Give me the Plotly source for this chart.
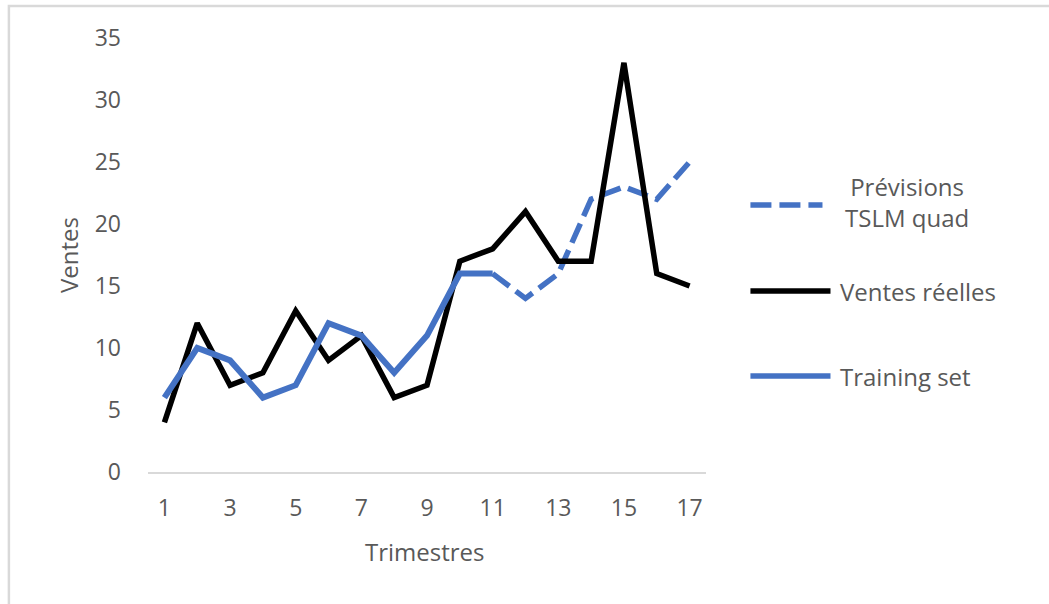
import plotly.graph_objects as go

# Quarterly sales data
trimestres = list(range(1, 18))
ventes_reelles = [4, 12, 7, 8, 13, 9, 11, 6, 7, 17, 18, 21, 17, 17, 33, 16, 15]
training_x = list(range(1, 12))
training_set = [6, 10, 9, 6, 7, 12, 11, 8, 11, 16, 16]
prev_x = list(range(11, 18))
previsions_tslm = [16, 14, 16, 22, 23, 22, 25]
x_ticks = [1, 3, 5, 7, 9, 11, 13, 15, 17]
y_ticks = [0, 5, 10, 15, 20, 25, 30, 35]

BLUE = "#4472C4"
BLACK = "#000000"
GREY_TXT = "#595959"
FONT = "Open Sans"
DASH = "21px,8px"

W, H = 1049, 604
L, R, T, B = 148, 1049 - 705.6, 38, 604 - 472
PW, PH = W - L - R, H - T - B


def px(xp):
    return (xp - L) / PW


def py(yp):
    return (H - B - yp) / PH


fig = go.Figure()
fig.add_trace(go.Scatter(x=prev_x, y=previsions_tslm, mode="lines",
                         line=dict(color=BLUE, width=5.5, dash=DASH),
                         name="Prévisions TSLM quad", showlegend=False))
fig.add_trace(go.Scatter(x=trimestres, y=ventes_reelles, mode="lines",
                         line=dict(color=BLACK, width=5.5),
                         name="Ventes réelles", showlegend=False))
fig.add_trace(go.Scatter(x=training_x, y=training_set, mode="lines",
                         line=dict(color=BLUE, width=6),
                         name="Training set", showlegend=False))

shapes = []
annotations = []

# Outer chart border
shapes.append(dict(type="rect", xref="paper", yref="paper",
                   x0=px(9), x1=px(1080), y0=py(640), y1=py(6),
                   line=dict(color="#d9d9d9", width=2.5), fillcolor="rgba(0,0,0,0)",
                   layer="below"))

# Legend
legend_items = [
    ("Prévisions<br>TSLM quad", 202, 205, dict(color=BLUE, width=5.5, dash=DASH), 822, 906, "center"),
    ("Ventes réelles", 291, 291, dict(color=BLACK, width=5.5), 830, 838, "left"),
    ("Training set", 376, 376, dict(color=BLUE, width=5.5), 830, 838, "left"),
]
for label, ty, ly, ln, lx1, tx, anchor in legend_items:
    shapes.append(dict(type="line", xref="paper", yref="paper",
                       x0=px(750), x1=px(lx1), y0=py(ly), y1=py(ly), line=ln))
    annotations.append(dict(xref="paper", yref="paper", x=px(tx), y=py(ty),
                            text=label, showarrow=False, xanchor=anchor, yanchor="middle",
                            align="center", font=dict(family=FONT, size=24, color=GREY_TXT)))

# Axis titles
annotations.append(dict(xref="paper", yref="paper", x=px(68), y=py(255), text="Ventes",
                        textangle=-90, showarrow=False, xanchor="center", yanchor="middle",
                        font=dict(family=FONT, size=24, color=GREY_TXT)))
annotations.append(dict(xref="paper", yref="paper", x=px(425), y=py(551), text="Trimestres",
                        showarrow=False, xanchor="center", yanchor="middle",
                        font=dict(family=FONT, size=24, color=GREY_TXT)))

fig.update_layout(
    width=W, height=H,
    margin=dict(l=L, r=R, t=T, b=B, autoexpand=False),
    paper_bgcolor="white", plot_bgcolor="white",
    shapes=shapes, annotations=annotations,
    showlegend=False,
    xaxis=dict(range=[0.5, 17.5], tickvals=x_ticks, ticktext=[str(v) for v in x_ticks],
               showgrid=False, zeroline=False, showline=True, linecolor="#d9d9d9",
               linewidth=1.5, ticks="", ticklabelstandoff=15,
               tickfont=dict(family=FONT, size=23, color=GREY_TXT)),
    yaxis=dict(range=[0, 35], tickvals=y_ticks, showgrid=False, zeroline=False,
               showline=False, ticks="", ticklabelstandoff=26,
               tickfont=dict(family=FONT, size=23, color=GREY_TXT)),
)

fig.write_html("out.html")
